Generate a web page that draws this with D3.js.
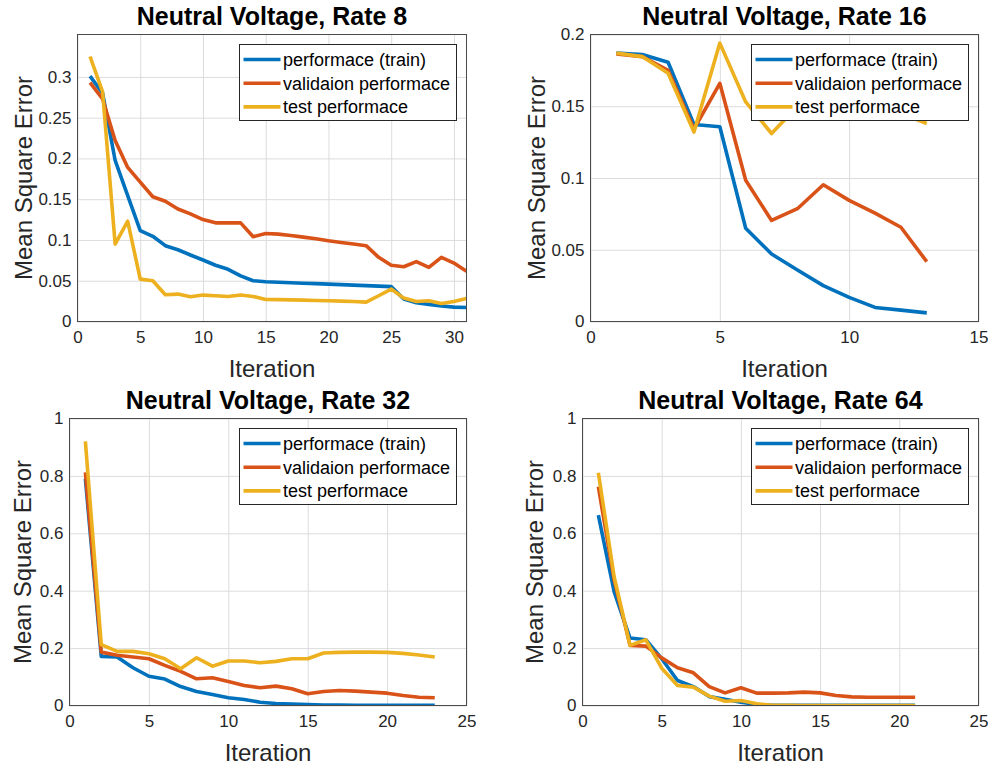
<!DOCTYPE html>
<html>
<head>
<meta charset="utf-8">
<title>Neutral Voltage training performance</title>
<style>
  body { margin: 0; background: #fff; }
  svg { display: block; font-family: "Liberation Sans", Arial, sans-serif; }
  .grid line { stroke: #dcdcdc; stroke-width: 1; }
  .tick text { fill: #262626; }
</style>
</head>
<body>
<div id="chart"></div>
<script src="https://cdn.jsdelivr.net/npm/d3@7"></script>
<script>
// series names and colours (MATLAB default order)
var seriesNames = ["performace (train)", "validaion performace", "test performace"];
var seriesColors = ["#0072bd", "#d95319", "#edb120"];

// panel titles
var titles = ["Neutral Voltage, Rate 8", "Neutral Voltage, Rate 16", "Neutral Voltage, Rate 32", "Neutral Voltage, Rate 64"];

// tick values
var xTicks8 = [0, 5, 10, 15, 20, 25, 30];
var xTicks16 = [0, 5, 10, 15];
var xTicks32 = [0, 5, 10, 15, 20, 25];
var yTicks8 = [0, 0.05, 0.1, 0.15, 0.2, 0.25, 0.3];
var yTicks16 = [0, 0.05, 0.1, 0.15, 0.2];
var yTicks32 = [0, 0.2, 0.4, 0.6, 0.8, 1];

// Rate 8 (iterations 1..31)
var rate8Train = [0.301, 0.28, 0.1975, 0.1545, 0.1115, 0.1045, 0.093, 0.088, 0.0816, 0.0754, 0.069, 0.064, 0.056, 0.050, 0.0488,
  0.0482, 0.0476, 0.047, 0.0464, 0.0458, 0.0452, 0.0446, 0.044, 0.0434, 0.0428, 0.0275, 0.023, 0.021, 0.019, 0.0176, 0.0172];
var rate8Val = [0.293, 0.273, 0.222, 0.189, 0.171, 0.153, 0.1475, 0.138, 0.132, 0.125, 0.121, 0.121, 0.121, 0.104, 0.108,
  0.1072, 0.1055, 0.1035, 0.1015, 0.099, 0.097, 0.095, 0.093, 0.0787, 0.0689, 0.0672, 0.0734, 0.0664, 0.0787, 0.0717, 0.0615];
var rate8Test = [0.325, 0.2816, 0.095, 0.123, 0.052, 0.050, 0.0328, 0.0336, 0.0303, 0.0324, 0.0316, 0.0307, 0.0324, 0.0307, 0.027,
  0.0268, 0.0265, 0.0262, 0.0258, 0.0254, 0.025, 0.0245, 0.0238, 0.0316, 0.0398, 0.0287, 0.0246, 0.0254, 0.0221, 0.0246, 0.0283];

// Rate 16 (iterations 1..13)
var rate16Train = [0.187, 0.186, 0.1807, 0.1373, 0.1357, 0.065, 0.047, 0.0359, 0.025, 0.0168, 0.0098, 0.0079, 0.006];
var rate16Val = [0.1865, 0.1846, 0.175, 0.134, 0.166, 0.0984, 0.0704, 0.0786, 0.0953, 0.0844, 0.0755, 0.0657, 0.0417];
var rate16Test = [0.187, 0.1846, 0.173, 0.132, 0.194, 0.153, 0.131, 0.150, 0.148, 0.147, 0.146, 0.145, 0.138];

// Rate 32 (iterations 1..23)
var rate32Train = [0.79, 0.171, 0.169, 0.1315, 0.102, 0.092, 0.066, 0.049, 0.038, 0.027, 0.021, 0.0116, 0.007, 0.0047, 0.0035,
  0.002, 0.0015, 0.001, 0.001, 0.001, 0.001, 0.001, 0.001];
var rate32Val = [0.8126, 0.186, 0.175, 0.169, 0.163, 0.14, 0.119, 0.093, 0.0966, 0.0838, 0.07, 0.0617, 0.0675, 0.0582, 0.0407,
  0.049, 0.0524, 0.050, 0.0466, 0.043, 0.035, 0.029, 0.0268];
var rate32Test = [0.92, 0.212, 0.1886, 0.1886, 0.18, 0.163, 0.128, 0.1665, 0.137, 0.155, 0.155, 0.149, 0.1537, 0.163, 0.163,
  0.183, 0.185, 0.186, 0.186, 0.185, 0.1816, 0.176, 0.169];

// Rate 64 (iterations 1..21)
var rate64Train = [0.6636, 0.396, 0.235, 0.229, 0.163, 0.087, 0.066, 0.031, 0.022, 0.0116, 0.0035, 0.001, 0.001, 0.001, 0.001,
  0.001, 0.001, 0.001, 0.001, 0.001, 0.001];
var rate64Val = [0.7625, 0.4366, 0.2095, 0.207, 0.166, 0.1315, 0.114, 0.066, 0.044, 0.0617, 0.043, 0.043, 0.044, 0.0466, 0.044,
  0.035, 0.030, 0.029, 0.029, 0.029, 0.029];
var rate64Test = [0.811, 0.448, 0.2095, 0.229, 0.13, 0.07, 0.064, 0.0326, 0.015, 0.0175, 0.006, 0.001, 0.0005, 0, 0,
  0, 0, 0, 0, 0, 0];

var W = 992, H = 767;
var svg = d3.select("#chart").append("svg").attr("width", W).attr("height", H);

// box of each axes
var panels = [
  {title: titles[0], box: [77.5, 34.5, 466.5, 321.5], xMax: 31, yMax: 0.352, xTicks: xTicks8, yTicks: yTicks8,
    series: [rate8Train, rate8Val, rate8Test], ylabX: 32},
  {title: titles[1], box: [590.5, 34.5, 978.5, 321.5], xMax: 15, yMax: 0.2, xTicks: xTicks16, yTicks: yTicks16,
    series: [rate16Train, rate16Val, rate16Test], ylabX: 545},
  {title: titles[2], box: [69.5, 418.5, 466.5, 705.5], xMax: 25, yMax: 1, xTicks: xTicks32, yTicks: yTicks32,
    series: [rate32Train, rate32Val, rate32Test], ylabX: 31},
  {title: titles[3], box: [582.5, 418.5, 978.5, 705.5], xMax: 25, yMax: 1, xTicks: xTicks32, yTicks: yTicks32,
    series: [rate64Train, rate64Val, rate64Test], ylabX: 543}
];

panels.forEach(function(p, k){
  var l = p.box[0], t = p.box[1], r = p.box[2], b = p.box[3];
  var x = d3.scaleLinear().domain([0, p.xMax]).range([l, r]);
  var y = d3.scaleLinear().domain([0, p.yMax]).range([b, t]);
  var g = svg.append("g");

  // grid
  g.append("g").attr("class", "grid")
    .attr("transform", "translate(0," + t + ")")
    .call(d3.axisBottom(x).tickValues(p.xTicks).tickSize(b - t).tickFormat(""))
    .call(function(s){ s.select(".domain").remove(); });
  g.append("g").attr("class", "grid")
    .attr("transform", "translate(" + l + ",0)")
    .call(d3.axisRight(y).tickValues(p.yTicks).tickSize(r - l).tickFormat(""))
    .call(function(s){ s.select(".domain").remove(); });

  // tick labels
  var xa = g.append("g").attr("transform", "translate(0," + b + ")")
    .call(d3.axisBottom(x).tickValues(p.xTicks).tickSize(0).tickPadding(9).tickFormat(d3.format("")));
  xa.select(".domain").remove();
  xa.selectAll("text").style("font-size", "17px");
  var ya = g.append("g").attr("transform", "translate(" + l + ",0)")
    .call(d3.axisLeft(y).tickValues(p.yTicks).tickSize(0).tickPadding(6).tickFormat(d3.format("")));
  ya.select(".domain").remove();
  ya.selectAll("text").style("font-size", "17px");

  // lines
  var clipId = "clip" + k;
  svg.append("clipPath").attr("id", clipId).append("rect")
    .attr("x", l).attr("y", t - 2).attr("width", r - l).attr("height", b - t + 2);
  var line = d3.line()
    .x(function(d, i){ return x(i + 1); })
    .y(function(d){ return y(d); });
  var lg = g.append("g").attr("clip-path", "url(#" + clipId + ")");
  p.series.forEach(function(vals, si){
    lg.append("path")
      .datum(vals)
      .attr("d", line)
      .attr("fill", "none")
      .attr("stroke", seriesColors[si])
      .attr("stroke-width", 3.6)
      .attr("stroke-linejoin", "round");
  });

  // axes box
  g.append("rect").attr("x", l).attr("y", t).attr("width", r - l).attr("height", b - t)
    .attr("fill", "none").attr("stroke", "#4a4a4a").attr("stroke-width", 1);

  // title and labels
  g.append("text").attr("x", (l + r) / 2).attr("y", t - 10)
    .attr("text-anchor", "middle").style("font-size", "25px").style("font-weight", "bold")
    .attr("fill", "#000").text(p.title);
  g.append("text").attr("x", (l + r) / 2).attr("y", b + 55)
    .attr("text-anchor", "middle").style("font-size", "24px").attr("fill", "#262626").text("Iteration");
  g.append("text").attr("transform", "translate(" + p.ylabX + "," + ((t + b) / 2) + ") rotate(-90)")
    .attr("text-anchor", "middle").style("font-size", "24px").attr("fill", "#262626").text("Mean Square Error");

  // legend
  var lw = 217, lh = 76;
  var lx = r - 10 - lw, ly = t + 10;
  var leg = g.append("g").attr("transform", "translate(" + lx + "," + ly + ")");
  leg.append("rect").attr("width", lw).attr("height", lh)
    .attr("fill", "#fff").attr("stroke", "#262626").attr("stroke-width", 1);
  seriesNames.forEach(function(name, si){
    var cy = 15 + si * 23.7;
    leg.append("line").attr("x1", 4).attr("x2", 41).attr("y1", cy).attr("y2", cy)
      .attr("stroke", seriesColors[si]).attr("stroke-width", 3.6);
    leg.append("text").attr("x", 43.5).attr("y", cy + 6.5)
      .style("font-size", "18px").attr("fill", "#000").text(name);
  });
});
</script>
</body>
</html>
